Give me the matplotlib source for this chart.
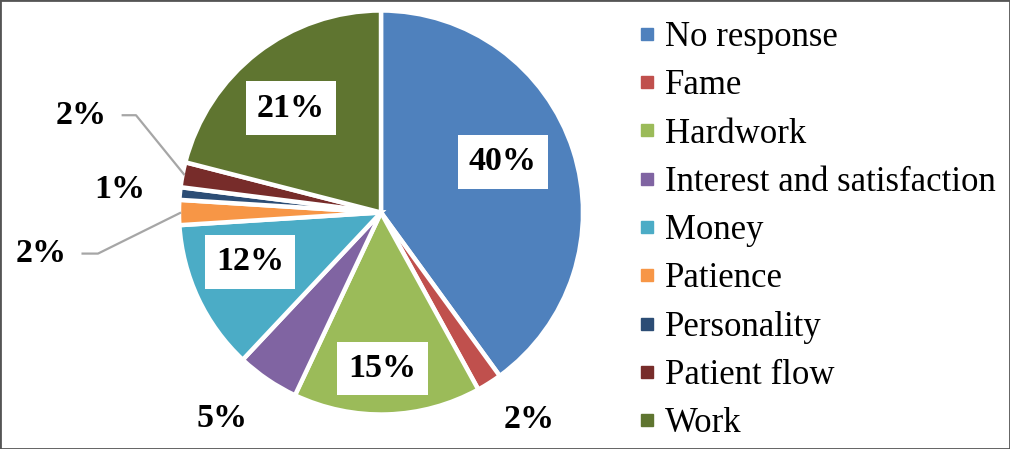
#!/usr/bin/env python3
import numpy as np
import matplotlib
matplotlib.use("Agg")
import matplotlib.pyplot as plt
from matplotlib.lines import Line2D
from matplotlib.patches import Rectangle

plt.rcParams["font.family"] = ["Liberation Serif", "DejaVu Serif"]

# data
categories = ["No response", "Fame", "Hardwork", "Interest and satisfaction",
              "Money", "Patience", "Personality", "Patient flow", "Work"]
percents = [40, 2, 15, 5, 12, 2, 1, 2, 21]
colors = ["#4F81BD", "#C0504D", "#9BBB59", "#8064A2", "#4BACC6",
          "#F79646", "#2C4D75", "#772C2A", "#5F7530"]

# label layout: radius, angle offset from slice middle (deg), boxed or not
label_radius = [0.66, 1.27, 0.78, 1.30, 0.70, 1.71, 1.31, 1.574, 0.69]
label_shift = [4.5, 3.2, -1.2, -3.5, -4.5, 6.9, 0.3, -7.2, 3.0]
boxed = [True, False, True, False, True, False, False, False, True]
# slices with an elbow leader line: elbow x position
leaders = {5: -1.415, 7: -1.225}

W, H = 1010, 449
fig = plt.figure(figsize=(W / 100, H / 100), dpi=100)
ax = fig.add_axes([0, 0, 1, 1])
cx, cy, R = 381, 212.5, 200.0

wedges, _ = ax.pie(percents, colors=colors, startangle=90, counterclock=False,
                   radius=1.01, wedgeprops=dict(edgecolor="white", linewidth=3.2))
ax.set_xlim(-cx / R, (W - cx) / R)
ax.set_ylim(-(H - cy) / R, cy / R)
ax.set_aspect("equal")
ax.axis("off")

for i, w in enumerate(wedges):
    mid = np.deg2rad((w.theta1 + w.theta2) / 2)
    ang = mid + np.deg2rad(label_shift[i])
    r = label_radius[i]
    x, y = r * np.cos(ang), r * np.sin(ang)
    kw = dict(ha="center", va="center", fontsize=24.5, fontweight="bold")
    if boxed[i]:
        kw["bbox"] = dict(boxstyle="square,pad=0.33", fc="white", ec="none")
    ax.text(x, y, f"{percents[i]}%", **kw)
    if i in leaders:
        ex, ey = 1.0 * np.cos(mid), 1.0 * np.sin(mid)
        ax.plot([x + 0.2, leaders[i], ex], [y, y, ey], color="#A6A6A6", lw=1.6,
                solid_capstyle="butt")

handles = [Line2D([], [], marker="s", linestyle="", markersize=8, color=c) for c in colors]
fig.legend(handles, categories, loc="upper left", bbox_to_anchor=(637 / W, 1 - 21 / H),
           frameon=False, fontsize=25, handlelength=0.6, handletextpad=0.2,
           labelspacing=0.44, borderpad=0, borderaxespad=0)

fig.patches.append(Rectangle((0, 0), 1, 1, transform=fig.transFigure, fill=False,
                             edgecolor="#555555", linewidth=2))

fig.savefig("out.png", dpi=100)
